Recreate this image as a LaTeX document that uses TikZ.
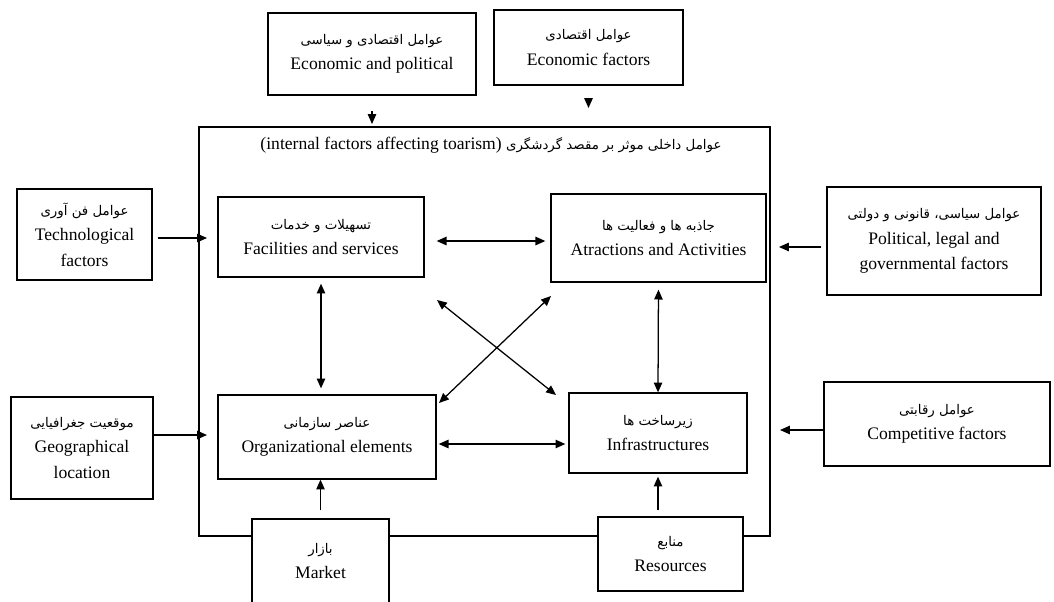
\documentclass[tikz,border=0pt]{standalone}
\usepackage{fontspec}
\setmainfont{Liberation Serif}
\newfontfamily\fa[Script=Arabic]{DejaVu Sans}
\TeXXeTstate=1
\usetikzlibrary{arrows.meta}
\newcommand{\pers}[1]{{\fa\fontsize{9.5}{18}\selectfont\beginR #1\endR}}
\tikzset{
  lbl/.style={align=center, inner sep=2pt, font=\fontsize{12.5}{18}\selectfont},
  box/.style={lbl, draw, fill=white, line width=0.9pt},
  arr/.style={line width=0.9pt, -{Triangle[length=7pt,width=6pt]}},
  dbl/.style={line width=0.9pt, {Triangle[length=7pt,width=6pt]}-{Triangle[length=7pt,width=6pt]}}
}
\begin{document}
\begin{tikzpicture}[x=0.025cm, y=-0.025cm]
\useasboundingbox (0,0) rectangle (1054,601);
% frame of the internal factors
\coordinate (fnw) at (199,127);
\coordinate (fse) at (770,536);
\draw[line width=0.9pt] (fnw) rectangle (fse);
\node[lbl] (title) at (491,145) {(internal factors affecting toarism) \pers{عوامل داخلی موثر بر مقصد گردشگری}};

% outer factors
\node[box, minimum width=5.2cm, minimum height=2.05cm] (ep) at (372,54) {\pers{عوامل اقتصادی و سیاسی}\\Economic and political};
\node[box, minimum width=4.725cm, minimum height=1.875cm] (ef) at (588.5,47.5) {\pers{عوامل اقتصادی}\\Economic factors};
\node[box, minimum width=3.375cm, minimum height=2.275cm] (tech) at (84.5,234.5) {\pers{عوامل فن آوری}\\Technological\\factors};
\node[box, minimum width=5.35cm, minimum height=2.7cm] (pol) at (934,241) {\pers{عوامل سیاسی، قانونی و دولتی}\\Political, legal and\\governmental factors};
\node[box, minimum width=3.55cm, minimum height=2.55cm] (geo) at (82,448) {\pers{موقعیت جغرافیایی}\\Geographical\\location};
\node[box, minimum width=5.65cm, minimum height=2.1cm] (comp) at (937,424) {\pers{عوامل رقابتی}\\Competitive factors};

% inner factors
\node[box, minimum width=5.15cm, minimum height=2cm] (fac) at (321,237) {\pers{تسهیلات و خدمات}\\Facilities and services};
\node[box, minimum width=5.375cm, minimum height=2.2cm] (att) at (658.5,238) {\pers{جاذبه ها و فعالیت ها}\\Atractions and Activities};
\node[box, minimum width=5.45cm, minimum height=2.1cm] (org) at (327,437) {\pers{عناصر سازمانی}\\Organizational elements};
\node[box, minimum width=4.45cm, minimum height=2cm] (inf) at (658,433) {\pers{زیرساخت ها}\\Infrastructures};
\node[box, minimum width=3.425cm, minimum height=2.1cm] (market) at (320.5,561) {\pers{بازار}\\Market};
\node[box, minimum width=3.625cm, minimum height=1.85cm] (res) at (670.5,554) {\pers{منابع}\\Resources};

\draw[arr, shorten <=0.375cm, shorten >=0.075cm] (ep.south) -- (ep.south |- fnw);
\draw[arr, shorten <=0.3cm, shorten >=0.475cm] (ef.south) -- (ef.south |- fnw);

\coordinate (inTech) at (207,238);
\coordinate (inGeo) at (207,435);
\coordinate (inPol) at (779,247);
\coordinate (inComp) at (780,430);
\draw[arr, shorten <=0.125cm] (tech.east |- inTech) -- (inTech);
\draw[arr] (geo.east |- inGeo) -- (inGeo);
\draw[arr, shorten <=0.125cm] (pol.west |- inPol) -- (inPol);
\draw[arr] (comp.west |- inComp) -- (inComp);

\coordinate (rowA) at (0,241);
\coordinate (rowB) at (0,444);
\draw[dbl, shorten <=0.3cm, shorten >=0.125cm] (fac.east |- rowA) -- (att.west |- rowA);
\draw[dbl, shorten <=0.05cm, shorten >=0.075cm] (org.east |- rowB) -- (inf.west |- rowB);
\draw[dbl, shorten <=0.15cm, shorten >=0.15cm] (fac.south) -- (fac.south |- org.north);
\draw[dbl, shorten <=0.175cm] (att.south) -- (inf.north);

\coordinate (dA1) at (437,300);
\coordinate (dA2) at (556,395);
\coordinate (dB1) at (551,296);
\coordinate (dB2) at (439,403);
\draw[dbl] (dA1) -- (dA2);
\draw[dbl] (dB1) -- (dB2);

\draw[arr, shorten <=0.2cm] (market.north) -- (market.north |- org.south);
\draw[arr, shorten <=0.15cm, shorten >=0.075cm] (inf.south |- res.north) -- (inf.south);
\end{tikzpicture}
\end{document}
